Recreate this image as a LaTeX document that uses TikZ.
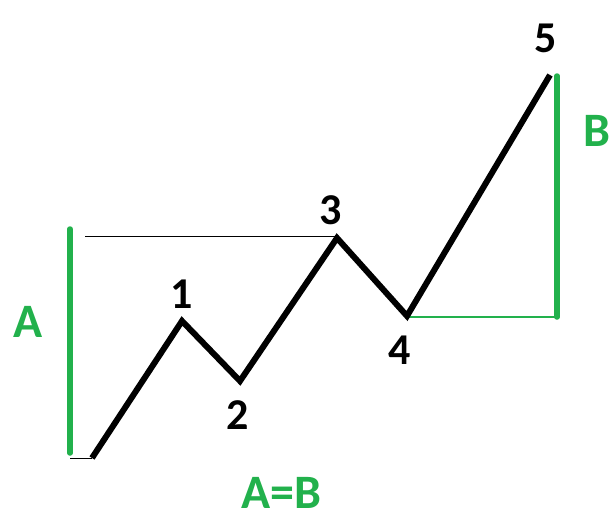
\documentclass[tikz,border=0pt]{standalone}
\usepackage{fontspec}
\setmainfont{Carlito}
\definecolor{legGreen}{RGB}{34,177,76}

\begin{document}
\begin{tikzpicture}[
    x=1pt, y=-1pt,
    wave/.style={line width=6pt, line join=miter, line cap=butt},
    guide/.style={line width=1pt},
    leg/.style={legGreen, line width=5.5pt, line cap=round},
    legthin/.style={legGreen, line width=1.2pt},
    num/.style={font=\fontsize{44}{44}\selectfont\bfseries, inner sep=0pt},
    lbl/.style={font=\fontsize{48}{48}\selectfont\bfseries, text=legGreen, inner sep=0pt}
]
\useasboundingbox (0, 0) rectangle (610, 520);
% wave points
\coordinate (p0) at (92, 458);
\coordinate (p1) at (182, 321);
\coordinate (p2) at (240, 381);
\coordinate (p3) at (337, 238);
\coordinate (p4) at (407, 316);
\coordinate (p5) at (550, 75);
% leg ends
\coordinate (aTop) at (70, 229);
\coordinate (aBot) at (70, 453);
\coordinate (aFoot) at (70, 458);
\coordinate (gTop) at (85, 236);
\coordinate (bTop) at (557, 76);
\coordinate (bBot) at (557, 317);
\coordinate (p4r) at (407, 317);
% guides
\draw[guide] (gTop) -- (gTop -| p3);
\draw[guide] (aFoot) -- (p0);
\draw[legthin] (p4r) -- (bBot);
% legs
\draw[leg] (aTop) -- (aBot);
\draw[leg] (bTop) -- (bBot);
% the wave
\draw[wave] (p0) -- (p1) -- (p2) -- (p3) -- (p4) -- (p5);
% labels
\node[num] (n1) at (182, 294) {1};
\node[num] (n2) at (238, 415) {2};
\node[num] (n3) at (331, 210) {3};
\node[num] (n4) at (400, 350) {4};
\node[num] (n5) at (546, 38) {5};
\node[lbl] (la) at (28, 322) {A};
\node[lbl] (lb) at (597, 131) {B};
\node[lbl] (lab) at (281, 493) {A=B};
\end{tikzpicture}
\end{document}
